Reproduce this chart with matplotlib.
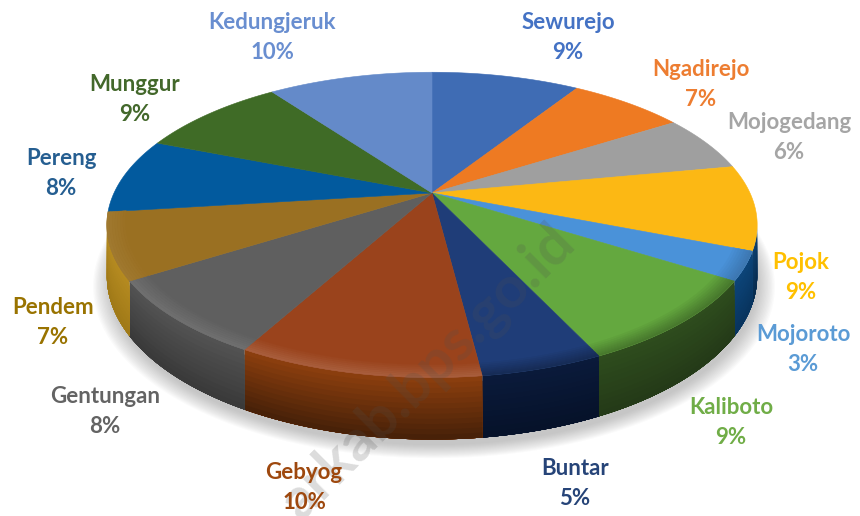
import numpy as np
import matplotlib
matplotlib.use('Agg')
import matplotlib.pyplot as plt

plt.rcParams['font.family'] = ['Lato', 'DejaVu Sans']

names = ['Sewurejo', 'Ngadirejo', 'Mojogedang', 'Pojok', 'Mojoroto', 'Kaliboto', 'Buntar',
         'Gebyog', 'Gentungan', 'Pendem', 'Pereng', 'Munggur', 'Kedungjeruk']
values = [9, 7, 6, 9, 3, 9, 5, 10, 8, 7, 8, 9, 10]
face_colors = ['#3f6cb4', '#ee7a22', '#9f9f9f', '#fcb814', '#4a92d9', '#64a83f', '#1f3d78',
               '#9a431c', '#5f5f5f', '#9a7022', '#025a9e', '#3f6b26', '#648ac9']
wall_top = ['#000000', '#000000', '#000000', '#0c3f6e', '#0c4478', '#2e4c1d', '#0a1a3a',
            '#8a3e0e', '#525252', '#b58a20', '#000000', '#000000', '#000000']
wall_bottom = ['#000000', '#000000', '#000000', '#082c4e', '#08345e', '#243a18', '#06122a',
               '#482108', '#3a3a3a', '#a07a18', '#000000', '#000000', '#000000']
rim_factor = [1, 1, 1, 1, 0.82, 0.72, 0.72, 1.14, 1.1, 1.06, 1, 1, 1]
label_colors = ['#4472c4', '#ed7d31', '#a5a5a5', '#ffc000', '#5b9bd5', '#70ad47', '#264478',
                '#9e480e', '#636363', '#997300', '#255e91', '#43682b', '#698ed0']
label_x = [568, 701, 789, 801, 803, 731, 575, 304, 105, 53, 61, 135, 272]
label_y = [37.5, 84.5, 137.5, 277.5, 349.5, 422.5, 483.5, 487.5, 411.5, 322.5, 173.5, 99.5, 37.5]

# perspective disc, in pixels of the picture
cx, cy = 432, 193
rx, ry = 318, 146
persp = 0.209
depth = 49


def project(ang, lift=0.0, r=1.0):
    # ang is clockwise from 12 o'clock
    X = r * np.sin(ang)
    Y = r * np.cos(ang)
    w = 1 + persp * Y
    return cx + rx * X / w, cy - ry * Y / w + lift * depth / w


def shade(color, f):
    rgb = np.array(matplotlib.colors.to_rgb(color))
    if f < 1:
        return tuple(rgb * f)
    return tuple(rgb + (1 - rgb) * (f - 1))


def mix(c0, c1, t):
    a = np.array(matplotlib.colors.to_rgb(c0))
    b = np.array(matplotlib.colors.to_rgb(c1))
    return tuple(a + (b - a) * t)


fig = plt.figure(figsize=(8.6, 5.16), dpi=100)
ax = fig.add_axes([0, 0, 1, 1])
ax.set_xlim(0, 860)
ax.set_ylim(516, 0)
ax.axis('off')

edges = np.cumsum([0] + values) / sum(values) * 2 * np.pi
full = np.linspace(0, 2 * np.pi, 361)

# soft shadow under the disc
for i in range(14):
    sx, sy = project(full, lift=1.0, r=0.99 + 0.004 * (14 - i))
    ax.fill(sx + 2, sy + 7, color='#707070', alpha=0.03, lw=0, zorder=1)

# side wall, only the part facing us
wall_a0 = np.arccos(-persp)
wall_a1 = 2 * np.pi - wall_a0
for start, end, c0, c1 in zip(edges[:-1], edges[1:], wall_top, wall_bottom):
    a0 = max(start, wall_a0)
    a1 = min(end, wall_a1)
    if a1 <= a0:
        continue
    ang = np.linspace(a0, a1, 60)
    xb, yb = project(ang, lift=1.0)
    for k in range(12):
        x0, y0 = project(ang, lift=k / 12)
        ax.fill(np.r_[x0, xb[::-1]], np.r_[y0, yb[::-1]], color=mix(c0, c1, k / 11), lw=0, zorder=2)

# top face with a soft bevel along the rim
for start, end, col, f in zip(edges[:-1], edges[1:], face_colors, rim_factor):
    ang = np.linspace(start, end, 60)
    x, y = project(ang)
    ax.fill(np.r_[cx, x], np.r_[cy, y], color=col, lw=0.4, zorder=3)
    if f == 1:
        continue
    steps = np.linspace(0.945, 1.0, 8)
    for k in range(7):
        xa, ya = project(ang, r=steps[k])
        xb, yb = project(ang, r=steps[k + 1])
        t = (k + 1) / 7
        g = 1 + (f - 1) * t
        ax.fill(np.r_[xa, xb[::-1]], np.r_[ya, yb[::-1]], color=shade(col, g), lw=0.3, zorder=4)

for name, val, col, lx, ly in zip(names, values, label_colors, label_x, label_y):
    ax.text(lx, ly, '%s\n%d%%' % (name, val), color=col, fontsize=16, fontweight='bold',
            ha='center', va='center', linespacing=1.5, zorder=6)

# watermark
ax.text(566, 234, 'arkab.bps.go.id', rotation=45, rotation_mode='anchor', ha='right',
        va='center', fontsize=42, fontweight='bold', color='#505050', alpha=0.2, zorder=5)

fig.savefig('out.png', dpi=100)
